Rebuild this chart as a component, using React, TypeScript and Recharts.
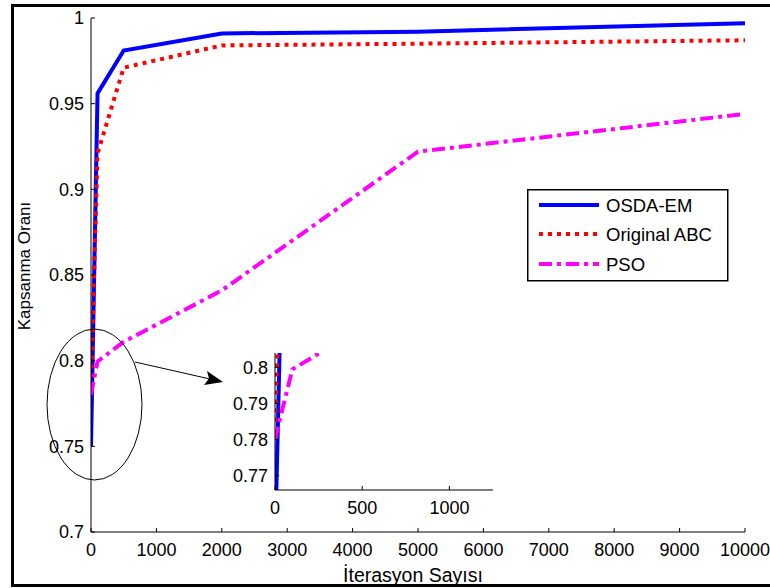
import React from "react";
import { LineChart, Line, XAxis, YAxis } from "recharts";

const iterations = [0, 100, 500, 2000, 5000, 10000];
const osdaEm = [0.75, 0.956, 0.981, 0.991, 0.992, 0.997];
const originalAbc = [0.785, 0.921, 0.971, 0.984, 0.985, 0.987];
const psoIterations = [0, 30, 100, 500, 2000, 5000, 10000];
const pso = [0.78, 0.786, 0.7995, 0.811, 0.841, 0.922, 0.944];

const xTicks = [0, 1000, 2000, 3000, 4000, 5000, 6000, 7000, 8000, 9000, 10000];
const yTicks = [0.7, 0.75, 0.8, 0.85, 0.9, 0.95, 1];
const insetXTicks = [0, 500, 1000];
const insetYTicks = [0.77, 0.78, 0.79, 0.8];

const FONT = "'Liberation Sans', Arial, sans-serif";

const osdaData = iterations.map((x, i) => ({ x, y: osdaEm[i] }));
const abcData = iterations.map((x, i) => ({ x, y: originalAbc[i] }));
const psoData = psoIterations.map((x, i) => ({ x, y: pso[i] }));

const series = [
  { name: "OSDA-EM", data: osdaData, color: "#0000ff", dash: undefined },
  { name: "Original ABC", data: abcData, color: "#ff0000", dash: "4 5" },
  { name: "PSO", data: psoData, color: "#ff00ff", dash: "13 5 4 5" },
];

const tickStyle = { fill: "#000", fontSize: 18, fontFamily: FONT };
const fmt = (v: number) => String(Number(v.toFixed(3)));

function renderLines() {
  return series.map((s) => (
    <Line
      key={s.name}
      data={s.data}
      dataKey="y"
      type="linear"
      stroke={s.color}
      strokeWidth={4}
      strokeDasharray={s.dash}
      strokeLinecap="butt"
      dot={false}
      activeDot={false}
      isAnimationActive={false}
    />
  ));
}

export default function App() {
  return (
    <div style={{ position: "absolute", left: 0, top: 0, width: 770, height: 588, overflow: "hidden", background: "#fff" }}>
      {/* outer frame */}
      <div
        style={{
          position: "absolute",
          left: 11,
          top: 4,
          width: 800,
          height: 577,
          border: "3px solid #000",
        }}
      />

      <div style={{ position: "absolute", left: 0, top: 0 }}>
        <LineChart width={770} height={588} margin={{ top: 18, right: 25, bottom: 26, left: 31 }}>
          <XAxis
            type="number"
            dataKey="x"
            domain={[0, 10000]}
            ticks={xTicks}
            allowDataOverflow
            height={30}
            tick={tickStyle}
            tickSize={-4}
            tickMargin={15}
            axisLine={{ stroke: "#000" }}
            tickLine={{ stroke: "#000" }}
          />
          <YAxis
            type="number"
            domain={[0.7, 1]}
            ticks={yTicks}
            allowDataOverflow
            width={60}
            tick={tickStyle}
            tickSize={-4}
            tickMargin={11}
            tickFormatter={fmt}
            axisLine={{ stroke: "#000" }}
            tickLine={{ stroke: "#000" }}
          />
          {renderLines()}
        </LineChart>
      </div>

      {/* zoomed inset */}
      <div style={{ position: "absolute", left: 215, top: 343 }}>
        <LineChart width={288} height={177} margin={{ top: 10, right: 10, bottom: 0, left: 0 }}>
          <XAxis
            type="number"
            dataKey="x"
            domain={[0, 1250]}
            ticks={insetXTicks}
            allowDataOverflow
            height={30}
            tick={tickStyle}
            tickSize={-4}
            tickMargin={15}
            axisLine={{ stroke: "#000" }}
            tickLine={{ stroke: "#000" }}
          />
          <YAxis
            type="number"
            domain={[0.766, 0.804]}
            ticks={insetYTicks}
            allowDataOverflow
            width={60}
            tick={tickStyle}
            tickSize={-4}
            tickMargin={11}
            tickFormatter={fmt}
            axisLine={{ stroke: "#000" }}
            tickLine={{ stroke: "#000" }}
          />
          {renderLines()}
        </LineChart>
      </div>

      {/* legend */}
      <div style={{ position: "absolute", left: 527, top: 189 }}>
        <svg width={202} height={93}>
          <rect x={0.75} y={0.75} width={200} height={91} fill="#fff" stroke="#000" strokeWidth={1.5} />
          {series.map((s, i) => {
            const cy = [16, 45, 75][i];
            return (
              <g key={s.name}>
                <line x1={12} x2={72} y1={cy} y2={cy} stroke={s.color} strokeWidth={4} strokeDasharray={s.dash} />
                <text x={79} y={cy + 6.5} fontSize={18.5} fontFamily={FONT} fill="#000">
                  {s.name}
                </text>
              </g>
            );
          })}
        </svg>
      </div>

      {/* annotations and axis titles */}
      <svg width={770} height={588} style={{ position: "absolute", left: 0, top: 0, pointerEvents: "none" }}>
        <ellipse cx={94.5} cy={404.5} rx={47.5} ry={75.5} fill="none" stroke="#000" strokeWidth={1} />
        <line x1={135} y1={362} x2={210} y2={379} stroke="#000" strokeWidth={1} />
        <polygon points="223,382 204,385 209,378.6 207,371" fill="#000" />
        <text x={30} y={266} fontSize={17} fontFamily={FONT} fill="#000" textAnchor="middle" transform="rotate(-90 30 266)">
          Kapsanma Oranı
        </text>
        <text x={413} y={582} fontSize={19.5} fontFamily={FONT} fill="#000" textAnchor="middle">
          İterasyon Sayısı
        </text>
      </svg>
    </div>
  );
}
